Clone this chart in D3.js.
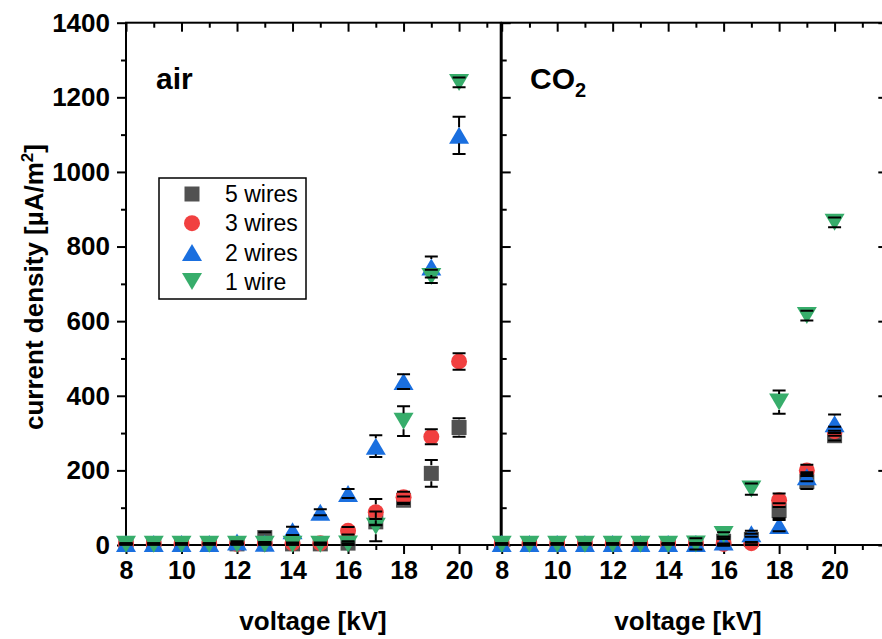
<!DOCTYPE html>
<html>
<head>
<meta charset="utf-8">
<script src="https://cdn.jsdelivr.net/npm/d3@7"></script>
<style>
  body { margin: 0; background: #fff; }
  svg { display: block; }
  text { font-family: "Liberation Sans", Arial, Helvetica, sans-serif; fill: #000; }
</style>
</head>
<body>
<svg id="chart" width="882" height="639"></svg>
<script>
// Applied voltage, kV
const voltages = [8, 9, 10, 11, 12, 13, 14, 15, 16, 17, 18, 19, 20];

// Series names (legend order) and colours
const seriesNames = ["5 wires", "3 wires", "2 wires", "1 wire"];
const seriesColors = ["#515151", "#F14040", "#1A6FDF", "#37AD6B"];
const seriesShapes = ["square", "circle", "triangleUp", "triangleDown"];

// Current density in air, µA/m², with standard deviations
const air5 = [3, 3, 3, 3, 3, 20, 3, 3, 5, 62, 120, 192, 315];
const air5Err = [1, 1, 1, 1, 1, 14, 2, 2, 5, 8, 10, 36, 25];
const air3 = [3, 3, 3, 3, 3, 3, 5, 5, 38, 88, 128, 290, 492];
const air3Err = [1, 1, 1, 1, 1, 1, 2, 2, 10, 35, 15, 20, 22];
const air2 = [4, 4, 4, 4, 8, 5, 38, 88, 138, 265, 438, 745, 1098];
const air2Err = [1, 1, 1, 1, 2, 3, 11, 8, 12, 29, 20, 28, 50];
const air1 = [2, 2, 2, 2, 2, 2, 2, 2, 3, 50, 332, 720, 1240];
const air1Err = [1, 1, 1, 1, 1, 1, 1, 1, 2, 40, 40, 18, 13];

// Current density in CO2, µA/m², with standard deviations
const co2_5 = [3, 3, 3, 3, 3, 3, 3, 3, 10, 15, 92, 170, 293];
const co2_5Err = [1, 1, 1, 1, 1, 1, 1, 15, 12, 15, 20, 20, 13];
const co2_3 = [3, 3, 3, 3, 3, 3, 3, 3, 3, 5, 120, 200, 305];
const co2_3Err = [1, 1, 1, 1, 1, 1, 1, 1, 1, 3, 18, 15, 12];
const co2_2 = [4, 4, 4, 4, 4, 4, 4, 4, 8, 30, 52, 183, 325];
const co2_2Err = [1, 1, 1, 1, 1, 1, 1, 1, 8, 8, 15, 12, 25];
const co2_1 = [2, 2, 2, 2, 2, 2, 2, 3, 28, 150, 383, 615, 865];
const co2_1Err = [1, 1, 1, 1, 1, 1, 1, 2, 6, 15, 31, 13, 13];

// Axis ticks
const xMajorTicks = [8, 10, 12, 14, 16, 18, 20];
const xMinorTicks = [9, 11, 13, 15, 17, 19, 21];
const yMajorTicks = [0, 200, 400, 600, 800, 1000, 1200, 1400];
const yMinorTicks = [100, 300, 500, 700, 900, 1100, 1300];

const panels = [
  { label: "air", xDomain: [8, 21.5], range: [126, 500.7],
    series: [[air5, air5Err], [air3, air3Err], [air2, air2Err], [air1, air1Err]] },
  { label: "CO2", xDomain: [8, 21.9], range: [501.7, 887.3],
    series: [[co2_5, co2_5Err], [co2_3, co2_3Err], [co2_2, co2_2Err], [co2_1, co2_1Err]] }
];

const svg = d3.select("#chart");
const yTop = 22.7, yBottom = 545;
const y = d3.scaleLinear().domain([0, 1400]).range([yBottom, yTop]);

const MAJOR = 9, MINOR = 5;

function symbolPath(shape) {
  switch (shape) {
    case "square": return "M-7.5,-7.5H7.5V7.5H-7.5Z";
    case "circle": return d3.symbol(d3.symbolCircle, Math.PI * 64)();
    case "triangleUp": return "M0,-8.5L10,8.5L-10,8.5Z";
    case "triangleDown": return "M0,8.5L10,-8.5L-10,-8.5Z";
  }
}

function styleAxis(size) {
  return g => {
    g.select(".domain").remove();
    g.selectAll(".tick line").attr("stroke", "#000").attr("stroke-width", 2);
    g.selectAll(".tick text").style("font-size", size + "px").style("font-weight", "bold");
  };
}

panels.forEach((p, pi) => {
  const x = d3.scaleLinear().domain(p.xDomain).range(p.range);
  const g = svg.append("g");
  const minors = xMinorTicks.filter(v => v <= p.xDomain[1]);

  // bottom axis: labelled major ticks + minor ticks
  g.append("g").attr("transform", `translate(0,${yBottom})`)
    .call(d3.axisBottom(x).tickValues(xMajorTicks).tickSize(MAJOR).tickPadding(7).tickFormat(d3.format("d")))
    .call(styleAxis(25));
  g.append("g").attr("transform", `translate(0,${yBottom})`)
    .call(d3.axisBottom(x).tickValues(minors).tickSize(MINOR).tickFormat(""))
    .call(styleAxis(25));

  // top axis: ticks pointing inward
  g.append("g").attr("transform", `translate(0,${yTop})`)
    .call(d3.axisTop(x).tickValues(xMajorTicks).tickSize(-MAJOR).tickFormat(""))
    .call(styleAxis(25));
  g.append("g").attr("transform", `translate(0,${yTop})`)
    .call(d3.axisTop(x).tickValues(minors).tickSize(-MINOR).tickFormat(""))
    .call(styleAxis(25));

  if (pi === 0) {
    // left value axis with labels
    g.append("g").attr("transform", `translate(${p.range[0]},0)`)
      .call(d3.axisLeft(y).tickValues(yMajorTicks).tickSize(MAJOR).tickPadding(7).tickFormat(d3.format("d")))
      .call(styleAxis(26));
    g.append("g").attr("transform", `translate(${p.range[0]},0)`)
      .call(d3.axisLeft(y).tickValues(yMinorTicks).tickSize(MINOR).tickFormat(""))
      .call(styleAxis(26));
  } else {
    // shared divider: ticks pointing into the CO2 panel
    g.append("g").attr("transform", `translate(${p.range[0]},0)`)
      .call(d3.axisRight(y).tickValues(yMajorTicks).tickSize(MAJOR).tickFormat(""))
      .call(styleAxis(26));
    g.append("g").attr("transform", `translate(${p.range[0]},0)`)
      .call(d3.axisRight(y).tickValues(yMinorTicks).tickSize(MINOR).tickFormat(""))
      .call(styleAxis(26));
    g.append("g").attr("transform", `translate(${p.range[1]},0)`)
      .call(d3.axisLeft(y).tickValues(yMajorTicks).tickSize(MAJOR).tickFormat(""))
      .call(styleAxis(26));
    g.append("g").attr("transform", `translate(${p.range[1]},0)`)
      .call(d3.axisLeft(y).tickValues(yMinorTicks).tickSize(MINOR).tickFormat(""))
      .call(styleAxis(26));
  }

  // panel frame
  g.append("rect")
    .attr("x", p.range[0]).attr("y", yTop)
    .attr("width", p.range[1] - p.range[0]).attr("height", yBottom - yTop)
    .attr("fill", "none").attr("stroke", "#000").attr("stroke-width", 2);

  // symbols, drawn series by series
  const plot = g.append("g");
  p.series.forEach(([vals], si) => {
    plot.append("g").selectAll("path")
      .data(vals.map((v, i) => ({ v, kv: voltages[i] })))
      .join("path")
      .attr("d", symbolPath(seriesShapes[si]))
      .attr("transform", d => `translate(${x(d.kv)},${y(d.v)})`)
      .attr("fill", seriesColors[si]);
  });

  // error bars on top; the stem stops at the symbol's edge
  const half = 8, cap = 6.5;
  p.series.forEach(([vals, errs]) => {
    const eg = plot.append("g").attr("stroke", "#000").attr("stroke-width", 2).attr("fill", "none");
    vals.forEach((v, i) => {
      const cx = x(voltages[i]), cy = y(v);
      const yHi = y(v + errs[i]), yLo = y(v - errs[i]);
      let path = `M${cx - cap},${yHi}H${cx + cap}M${cx - cap},${yLo}H${cx + cap}`;
      if (cy - yHi > half) path += `M${cx},${yHi}V${cy - half}`;
      if (yLo - cy > half) path += `M${cx},${cy + half}V${yLo}`;
      eg.append("path").attr("d", path);
    });
  });

  // x-axis title
  svg.append("text")
    .attr("x", pi === 0 ? 313 : 688).attr("y", 630)
    .attr("text-anchor", "middle")
    .style("font-size", "26px").style("font-weight", "bold")
    .text("voltage [kV]");
});

// gas labels
svg.append("text").attr("x", 156).attr("y", 89)
  .style("font-size", "30px").style("font-weight", "bold").text("air");
const co2 = svg.append("text").attr("x", 530).attr("y", 89)
  .style("font-size", "30px").style("font-weight", "bold");
co2.append("tspan").text("CO");
co2.append("tspan").attr("dy", 8).style("font-size", "20px").text("2");

// y-axis title
const yt = svg.append("text")
  .attr("transform", "translate(43,287) rotate(-90)")
  .attr("text-anchor", "middle")
  .style("font-size", "26px").style("font-weight", "bold");
yt.append("tspan").text("current density [µA/m");
yt.append("tspan").attr("dy", -10).style("font-size", "17px").text("2");
yt.append("tspan").attr("dy", 10).text("]");

// legend
const legend = svg.append("g");
legend.append("rect").attr("x", 159).attr("y", 178).attr("width", 147).attr("height", 121)
  .attr("fill", "#fff").attr("stroke", "#000").attr("stroke-width", 1.5);
seriesNames.forEach((name, i) => {
  const cy = 194 + i * 29.2;
  legend.append("path").attr("d", symbolPath(seriesShapes[i]))
    .attr("transform", `translate(192,${cy})`).attr("fill", seriesColors[i]);
  legend.append("text").attr("x", 225).attr("y", cy).attr("dy", "0.36em")
    .style("font-size", "23px").text(name);
});
</script>
</body>
</html>
